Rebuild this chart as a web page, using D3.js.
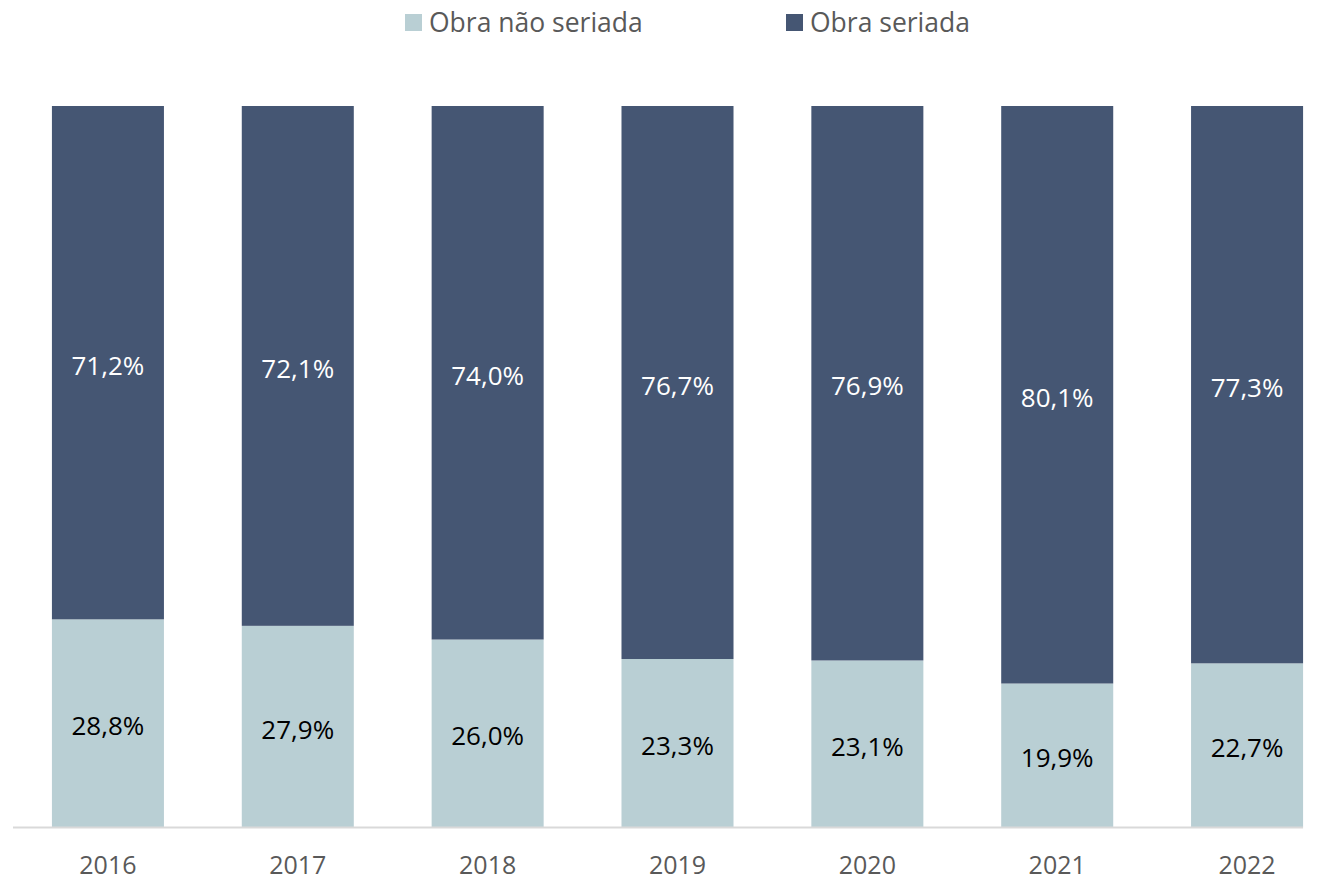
<!DOCTYPE html>
<html><head><meta charset="utf-8">
<script src="https://cdn.jsdelivr.net/npm/d3@7"></script>
<style>body{margin:0;background:#fff}svg{display:block;font-family:"Open Sans","Noto Sans",sans-serif}</style>
</head><body><svg id="c" width="1325" height="881"></svg>
<script>
const years = ["2016","2017","2018","2019","2020","2021","2022"];
const naoSeriada = [28.8,27.9,26.0,23.3,23.1,19.9,22.7];
const seriada = [71.2,72.1,74.0,76.7,76.9,80.1,77.3];
const seriesNames = ["Obra não seriada","Obra seriada"];
const colors = ["#B9CFD4","#455673"];

const svg = d3.select("#c");
const x = d3.scaleBand().domain(years).range([13,1342]).paddingInner(0.41).paddingOuter(0.205);
const y = d3.scaleLinear().domain([0,100]).range([827,106]);
const fmt = v => v.toFixed(1).replace(".", ",") + "%";

const data = years.map((yr,i)=>({yr, a:naoSeriada[i], b:seriada[i]}));
const g = svg.append("g");
g.selectAll(".a").data(data).join("rect")
  .attr("x",d=>x(d.yr)).attr("width",x.bandwidth())
  .attr("y",d=>y(d.a)).attr("height",d=>y(0)-y(d.a)).attr("fill",colors[0]);
g.selectAll(".b").data(data).join("rect")
  .attr("x",d=>x(d.yr)).attr("width",x.bandwidth())
  .attr("y",d=>y(d.a+d.b)).attr("height",d=>y(d.a)-y(d.a+d.b)).attr("fill",colors[1]);
g.selectAll(".la").data(data).join("text")
  .attr("x",d=>x(d.yr)+x.bandwidth()/2).attr("y",d=>(y(0)+y(d.a))/2+3)
  .attr("dy","0.35em").attr("text-anchor","middle").attr("font-size",26).attr("fill","#000")
  .text(d=>fmt(d.a));
g.selectAll(".lb").data(data).join("text")
  .attr("x",d=>x(d.yr)+x.bandwidth()/2).attr("y",d=>(y(d.a)+y(d.a+d.b))/2+3)
  .attr("dy","0.35em").attr("text-anchor","middle").attr("font-size",26).attr("fill","#fff")
  .text(d=>fmt(d.b));
svg.append("line").attr("x1",13).attr("x2",x(years[6])+x.bandwidth()).attr("y1",827.5).attr("y2",827.5)
  .attr("stroke","#D9D9D9").attr("stroke-width",2);
svg.selectAll(".xt").data(years).join("text")
  .attr("x",d=>x(d)+x.bandwidth()/2).attr("y",874)
  .attr("text-anchor","middle").attr("font-size",25).attr("fill","#595959").text(d=>d);
const leg = [{n:seriesNames[0],c:colors[0],x:405},{n:seriesNames[1],c:colors[1],x:786}];
const lg = svg.selectAll(".lg").data(leg).join("g").attr("transform",d=>`translate(${d.x},0)`);
lg.append("rect").attr("x",0).attr("y",14).attr("width",17).attr("height",17).attr("fill",d=>d.c);
lg.append("text").attr("x",24).attr("y",32).attr("font-size",26.5).attr("fill","#595959").text(d=>d.n);
</script></body></html>
